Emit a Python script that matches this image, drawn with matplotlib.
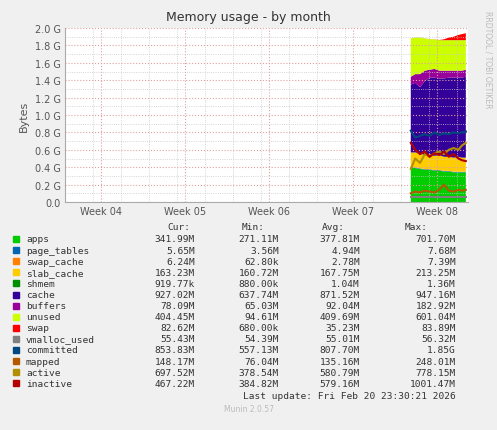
import matplotlib
matplotlib.use("Agg")
import matplotlib.pyplot as plt
import numpy as np

t = [28.83,29.2,29.6,30.0,30.4,30.8,31.2,31.6,32.0,32.4,32.8,33.1,33.42]
apps        = [0.40,0.39,0.38,0.37,0.37,0.36,0.36,0.35,0.35,0.34,0.34,0.34,0.34]
page_tables = [0.006]*13
swap_cache  = [0.003]*13
slab_cache  = [0.16,0.17,0.17,0.16,0.17,0.16,0.17,0.16,0.16,0.16,0.17,0.16,0.16]
shmem       = [0.001]*13
cache       = [0.78,0.80,0.76,0.85,0.88,0.90,0.88,0.90,0.91,0.92,0.91,0.92,0.93]
buffers     = [0.09,0.10,0.15,0.12,0.09,0.10,0.09,0.09,0.08,0.08,0.08,0.08,0.08]
unused      = [0.44,0.42,0.42,0.37,0.35,0.34,0.35,0.35,0.35,0.35,0.35,0.35,0.34]
swap        = [0.001,0.001,0.001,0.001,0.001,0.001,0.002,0.01,0.03,0.04,0.06,0.07,0.08]
vmalloc_used= [0.055]*13
committed   = [0.82,0.74,0.76,0.78,0.76,0.80,0.77,0.79,0.78,0.80,0.79,0.80,0.81]
mapped      = [0.10,0.12,0.11,0.13,0.12,0.11,0.14,0.20,0.13,0.12,0.14,0.13,0.14]
active      = [0.38,0.50,0.45,0.55,0.52,0.56,0.58,0.55,0.60,0.62,0.60,0.65,0.68]
inactive    = [0.68,0.60,0.55,0.58,0.52,0.56,0.54,0.58,0.52,0.55,0.50,0.48,0.47]

names = ["apps","page_tables","swap_cache","slab_cache","shmem","cache","buffers","unused","swap",
         "vmalloc_used","committed","mapped","active","inactive"]
colors = ["#00CC00","#0066B3","#FF8000","#FFCC00","#008F00","#330099","#990099","#CCFF00","#FF0000",
          "#808080","#00487D","#B35A00","#B38F00","#B30000"]
cur = ["341.99M","5.65M","6.24M","163.23M","919.77k","927.02M","78.09M","404.45M","82.62M","55.43M","853.83M","148.17M","697.52M","467.22M"]
mn  = ["271.11M","3.56M","62.80k","160.72M","880.00k","637.74M","65.03M","94.61M","680.00k","54.39M","557.13M","76.04M","378.54M","384.82M"]
avg = ["377.81M","4.94M","2.78M","167.75M","1.04M","871.52M","92.04M","409.69M","35.23M","55.01M","807.70M","135.16M","580.79M","579.16M"]
mx  = ["701.70M","7.68M","7.39M","213.25M","1.36M","947.16M","182.92M","601.04M","83.89M","56.32M","1.85G","248.01M","778.15M","1001.47M"]
weeks = ["Week 04","Week 05","Week 06","Week 07","Week 08"]
week_pos = [3,10,17,24,31]

W,H = 497,431
fig = plt.figure(figsize=(W/100,H/100), dpi=100, facecolor="#F0F0F0")
ax = fig.add_axes([65/W, 1-203/H, 403/W, 174/H], facecolor="white")
stack = [apps,page_tables,swap_cache,slab_cache,shmem,cache,buffers,unused,swap]
ax.stackplot(t, *stack, colors=colors[:9], linewidth=0)
for s,c in zip([vmalloc_used,committed,mapped,active,inactive], colors[9:]):
    ax.plot(t, s, color=c, lw=1.5)
ax.set_xlim(0,33.6); ax.set_ylim(0,2.0)
ax.set_yticks(np.arange(0,2.01,0.2))
ax.set_yticks(np.arange(0,2.01,0.1), minor=True)
ax.yaxis.set_ticklabels([f"{v:.1f} G" if i>0 else "0.0" for i,v in enumerate(np.arange(0,2.01,0.2))], fontsize=7, color="#555555")
ax.set_xticks(week_pos); ax.set_xticklabels(weeks, fontsize=7, color="#555555")
ax.set_xticks(np.arange(0,33.6,7/3), minor=True)
ax.grid(True, which="major", color="#E0A0A0", ls=":", lw=0.8)
ax.grid(True, which="minor", color="#C8C8C8", ls=":", lw=0.6)
ax.tick_params(length=0, pad=3, which="both")
for s in ["top","right"]: ax.spines[s].set_visible(False)
for s in ["left","bottom"]: ax.spines[s].set_color("#AAAAAA")
ax.set_ylabel("Bytes", fontsize=8, color="#555555")
fig.text(0.5, 1-18/H, "Memory usage - by month", ha="center", va="center", fontsize=9, color="#333333")
fig.text(488/W, 1-60/H, "RRDTOOL / TOBI OETIKER", rotation=270, ha="center", va="center", fontsize=5.5, color="#BBBBBB")

fs=6.8
y0=228
for lab,x in [("Cur:",190),("Min:",265),("Avg:",345),("Max:",428)]:
    fig.text(x/W, 1-y0/H, lab, ha="right", va="center", fontsize=fs, family="DejaVu Sans Mono", color="#333333")
for i,n in enumerate(names):
    y = 240+i*11.1
    fig.add_artist(plt.Rectangle((13/W,1-(y+3)/H),6/W,6/H,color=colors[i],transform=fig.transFigure))
    fig.text(26/W,1-y/H,n,va="center",fontsize=fs,family="DejaVu Sans Mono",color="#333333")
    for v,x in [(cur[i],195),(mn[i],279),(avg[i],360),(mx[i],456)]:
        fig.text(x/W,1-y/H,v,ha="right",va="center",fontsize=fs,family="DejaVu Sans Mono",color="#333333")
fig.text(456/W,1-397/H,"Last update: Fri Feb 20 23:30:21 2026",ha="right",va="center",fontsize=fs,family="DejaVu Sans Mono",color="#333333")
fig.text(0.5,1-410/H,"Munin 2.0.57",ha="center",va="center",fontsize=5.5,color="#BBBBBB")
fig.savefig("out.png", dpi=100, facecolor=fig.get_facecolor())
